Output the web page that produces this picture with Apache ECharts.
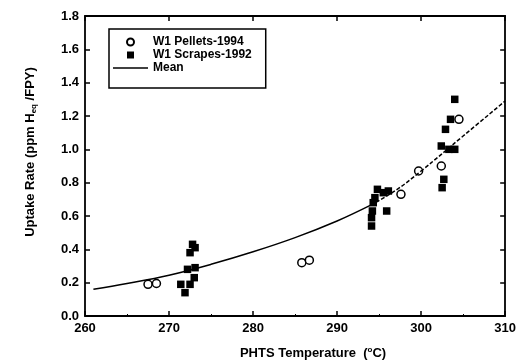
<!DOCTYPE html>
<html lang="en">
<head>
	<meta charset="UTF-8">
	<title>uptake_rate</title>
	<script type="text/javascript" src="https://cdn.jsdelivr.net/npm/echarts@6/dist/echarts.min.js"></script>
</head>
<body style="margin:0;background:#fff;">
<div id="uptakeChart" style="width: 519px;height: 364px"></div>

<script type="text/javascript">
    // W1 pellets (1994), open circles
    var pelletsTemp = [267.5, 268.5, 285.8, 286.7, 297.6, 299.7, 302.4, 304.5];
    var pelletsRate = [0.19, 0.195, 0.32, 0.335, 0.73, 0.87, 0.90, 1.18];

    // W1 scrapes (1992), filled squares
    var scrapesTemp = [271.4, 271.9, 272.5, 273.0, 272.2, 273.1, 272.5, 272.8, 273.1,
                       294.1, 294.1, 294.2, 294.3, 294.5, 294.8, 295.5, 296.1, 295.9,
                       302.4, 302.7, 302.5, 302.9, 303.3, 304.0, 303.5, 304.0];
    var scrapesRate = [0.19, 0.14, 0.19, 0.23, 0.28, 0.29, 0.38, 0.43, 0.41,
                       0.54, 0.59, 0.63, 0.68, 0.71, 0.76, 0.74, 0.75, 0.63,
                       1.02, 0.82, 0.77, 1.12, 1.00, 1.00, 1.18, 1.30];

    // mean curve (solid part, then dashed part)
    var meanTemp = [261, 265, 270, 275, 280, 285, 290, 294];
    var meanRate = [0.16, 0.195, 0.245, 0.31, 0.385, 0.47, 0.57, 0.665];
    var meanTempDash = [294, 297, 300, 305, 310];
    var meanRateDash = [0.665, 0.755, 0.87, 1.08, 1.29];

    var xTicks = [260, 310, 10];
    var yTicks = [0, 1.8, 0.2];

    var zip = function(xs, ys){
        var res = [];
        for (var i = 0; i < xs.length; i++) {
            res.push([xs[i], ys[i]]);
        }
        return res;
    };

    var font = 'Liberation Sans';
    var chart = echarts.init(document.getElementById('uptakeChart'));

    var tickStyle = {show: true, inside: true, length: 5, lineStyle: {color: '#000', width: 1.5}};
    var lineStyle = {show: true, onZero: false, lineStyle: {color: '#000', width: 1.8}};

    var option = {
        backgroundColor: '#fff',
        animation: false,
        grid: {left: 85, right: 13, top: 16, bottom: 48},
        legend: {
            orient: 'vertical',
            left: 109,
            top: 29,
            padding: [7, 14, 14, 4],
            borderColor: '#000',
            borderWidth: 1.5,
            itemWidth: 35,
            itemHeight: 7,
            itemGap: 1,
            textStyle: {fontFamily: font, fontWeight: 'bold', fontSize: 12, lineHeight: 12, color: '#000'},
            data: [
                {name: 'W1 Pellets-1994', icon: 'circle'},
                {name: 'W1 Scrapes-1992', icon: 'path://M0,0L1,0L1,1L0,1Z'},
                {name: 'Mean', icon: 'path://M0,0L35,0L35,1.5L0,1.5Z'}
            ]
        },
        xAxis: [
            {
                type: 'value',
                min: xTicks[0], max: xTicks[1], interval: xTicks[2],
                position: 'bottom',
                axisLine: lineStyle,
                axisTick: tickStyle,
                minorTick: {show: true, splitNumber: 2, length: 2, lineStyle: {color: '#000'}},
                splitLine: {show: false},
                axisLabel: {color: '#000', fontFamily: font, fontWeight: 'bold', fontSize: 13, margin: 6}
            },
            {
                type: 'value',
                min: xTicks[0], max: xTicks[1], interval: xTicks[2],
                position: 'top',
                axisLine: lineStyle,
                axisTick: tickStyle,
                splitLine: {show: false},
                axisLabel: {show: false}
            }
        ],
        yAxis: [
            {
                type: 'value',
                min: yTicks[0], max: yTicks[1], interval: yTicks[2],
                position: 'left',
                axisLine: lineStyle,
                axisTick: tickStyle,
                splitLine: {show: false},
                axisLabel: {
                    color: '#000', fontFamily: font, fontWeight: 'bold', fontSize: 13, margin: 6,
                    formatter: function(v){ return v.toFixed(1); }
                }
            },
            {
                type: 'value',
                min: yTicks[0], max: yTicks[1], interval: yTicks[2],
                position: 'right',
                axisLine: lineStyle,
                axisTick: tickStyle,
                splitLine: {show: false},
                axisLabel: {show: false}
            }
        ],
        graphic: [
            {
                type: 'text',
                x: 30, y: 152,
                rotation: Math.PI / 2,
                style: {
                    text: 'Uptake Rate (ppm H{sub|eq} /FPY)',
                    fill: '#000',
                    font: 'bold 13px "Liberation Sans"',
                    align: 'center',
                    verticalAlign: 'middle',
                    rich: {
                        sub: {fontSize: 8, fontWeight: 'bold', fontFamily: font, padding: [8, 0, 0, 0]}
                    }
                }
            },
            {
                type: 'text',
                x: 313, y: 353,
                style: {
                    text: 'PHTS Temperature  ({sup|o}C)',
                    fill: '#000',
                    font: 'bold 13px "Liberation Sans"',
                    align: 'center',
                    verticalAlign: 'middle',
                    rich: {
                        sup: {fontSize: 8, fontWeight: 'bold', fontFamily: font, padding: [0, 0, 6, 0]}
                    }
                }
            }
        ],
        series: [
            {
                name: 'W1 Pellets-1994',
                type: 'scatter',
                symbol: 'circle',
                symbolSize: 8,
                itemStyle: {color: '#fff', borderColor: '#000', borderWidth: 1.5, opacity: 1},
                data: zip(pelletsTemp, pelletsRate)
            },
            {
                name: 'W1 Scrapes-1992',
                type: 'scatter',
                symbol: 'rect',
                symbolSize: 7.5,
                itemStyle: {color: '#000', opacity: 1},
                data: zip(scrapesTemp, scrapesRate)
            },
            {
                name: 'Mean',
                type: 'line',
                smooth: 0.4,
                symbol: 'none',
                lineStyle: {color: '#000', width: 1.5},
                itemStyle: {color: '#000'},
                data: zip(meanTemp, meanRate)
            },
            {
                name: 'Mean',
                type: 'line',
                smooth: 0.4,
                symbol: 'none',
                lineStyle: {color: '#000', width: 1.5, type: [4, 2]},
                itemStyle: {color: '#000'},
                data: zip(meanTempDash, meanRateDash)
            }
        ]
    };

    chart.setOption(option);
</script>
</body>
</html>
